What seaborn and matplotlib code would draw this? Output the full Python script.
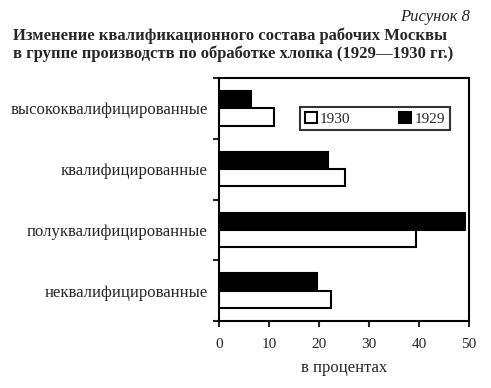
import numpy as np
import pandas as pd
import seaborn as sns
import matplotlib.pyplot as plt
from matplotlib.patches import Patch

categories = ["высококвалифицированные", "квалифицированные",
              "полуквалифицированные", "неквалифицированные"]
v1929 = [6.4, 21.7, 49.2, 19.5]
v1930 = [10.9, 25.1, 39.3, 22.3]
years = ["1929", "1930"]

df = pd.DataFrame({
    "cat": categories * 2,
    "val": v1929 + v1930,
    "year": [years[0]] * 4 + [years[1]] * 4,
})

sns.set_style("white")
plt.rcParams["font.family"] = ["Liberation Serif", "DejaVu Serif"]

fig = plt.figure(figsize=(4.91, 3.88), dpi=100)
ax = fig.add_axes([219 / 491, 1 - 321 / 388, 250 / 491, 243 / 388])

sns.barplot(data=df, x="val", y="cat", hue="year", hue_order=years,
            palette={"1929": "black", "1930": "white"}, width=0.57,
            edgecolor="black", linewidth=1.5, orient="h", ax=ax, legend=False)

ax.set_xlim(0, 50)
ax.set_ylim(3.5, -0.5)
ax.set_xticks(np.arange(0, 51, 10))
ax.set_yticks(np.arange(-0.5, 4, 1))
ax.set_yticklabels([])
ax.set_yticks(range(4), minor=True)
ax.set_yticklabels(categories, minor=True, fontsize=12)
ax.tick_params(axis="y", which="major", length=4, width=1.5, direction="out", left=True)
ax.tick_params(axis="y", which="minor", length=0, pad=8)
ax.tick_params(axis="x", length=4, width=1.5, direction="out", bottom=True,
               labelsize=11, pad=8)
ax.set_xlabel("в процентах", fontsize=12, labelpad=7)
ax.set_ylabel("")
for s in ax.spines.values():
    s.set_visible(True)
    s.set_color("black")
    s.set_linewidth(1.5)

handles = [Patch(facecolor="white", edgecolor="black", linewidth=1.5, label="1930"),
           Patch(facecolor="black", edgecolor="black", linewidth=1.5, label="1929")]
leg = ax.legend(handles=handles, ncol=2, loc="upper left",
                bbox_to_anchor=(81 / 250, (321 - 107) / 243), fontsize=11,
                frameon=True, fancybox=False, handlelength=0.8, handleheight=0.8,
                handletextpad=0.2, columnspacing=3.2, borderpad=0.3,
                borderaxespad=0)
leg.get_frame().set_edgecolor("black")
leg.get_frame().set_linewidth(1.5)

fig.text(0.958, 0.978, "Рисунок 8", ha="right", va="top", fontsize=12, style="italic")
fig.text(0.027, 0.93, "Изменение квалификационного состава рабочих Москвы\n"
         "в группе производств по обработке хлопка (1929—1930 гг.)",
         ha="left", va="top", fontsize=12, fontweight="bold", linespacing=1.12)

fig.savefig("out.png", dpi=100)
